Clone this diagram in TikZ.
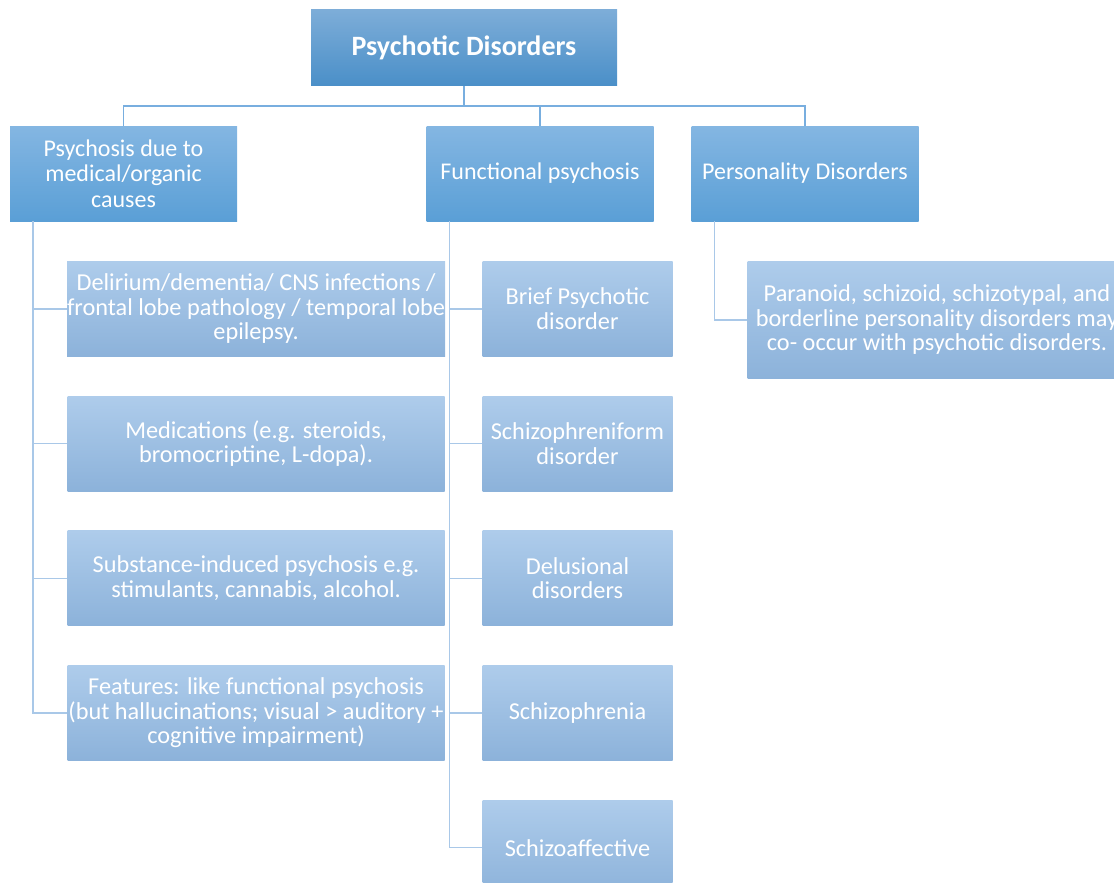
\documentclass[tikz,border=0pt]{standalone}
\usepackage{fontspec}
\setmainfont{Carlito}
\usepackage{tikz}
\usetikzlibrary{positioning}
\usepackage{xcolor}
\definecolor{headtop}{HTML}{7DADD8}
\definecolor{headbot}{HTML}{4A8FC8}
\definecolor{cattop}{HTML}{84B6E2}
\definecolor{catbot}{HTML}{5A9FD6}
\definecolor{subtop}{HTML}{AECCEB}
\definecolor{subbot}{HTML}{8CB2DA}
\definecolor{linkdark}{HTML}{78AEDF}
\definecolor{linklight}{HTML}{A9C8E8}

\begin{document}
\begin{tikzpicture}[
  x=1pt, y=-1pt,
  head/.style = {rectangle, top color=headtop, bottom color=headbot, text=white,
                 minimum width=306pt, minimum height=76pt, inner sep=0pt, align=center,
                 font=\fontsize{28}{30}\selectfont\bfseries},
  cat/.style  = {rectangle, top color=cattop, bottom color=catbot, text=white,
                 minimum width=227pt, minimum height=95pt, inner sep=0pt, align=center,
                 font=\fontsize{24}{25.5}\selectfont},
  sub/.style  = {rectangle, top color=subtop, bottom color=subbot, text=white,
                 minimum width=377pt, minimum height=95pt, inner sep=0pt, align=center,
                 font=\fontsize{24.3}{24.5}\selectfont},
  dis/.style  = {sub, minimum width=190pt},
  pd/.style   = {sub, minimum width=379pt, minimum height=117pt},
  link/.style = {draw=linkdark, line width=1.5pt},
  tie/.style  = {draw=linklight, line width=1.5pt},
  node distance = 39.3pt,
]
\useasboundingbox (0,0) rectangle (1114,883);
\clip (0,0) rectangle (1114,883);

% ── Top ──────────────────────────────────────────────────────────────────────
\node[head] (title) at (464,48) {Psychotic Disorders};

% ── Main groups ──────────────────────────────────────────────────────────────
\node[cat] (org)  at (123.5,173.5) {Psychosis due to\\medical/organic\\causes};
\node[cat] (func) at (540,173.5)   {Functional psychosis};
\node[cat] (pers) at (805,173.5)   {Personality Disorders};

\coordinate (bus) at (464,106);
\draw[link] (title.south) -- (bus);
\draw[link] (bus) -| (org.north);
\draw[link] (bus) -| (func.north);
\draw[link] (bus) -| (pers.north);

% ── Organic causes ───────────────────────────────────────────────────────────
\node[sub, below right=40pt and 57pt of org.south west] (med1)
      {Delirium/dementia/ CNS infections /\\frontal lobe pathology / temporal lobe\\epilepsy.};
\node[sub, below=of med1] (med2) {Medications (e.g. steroids,\\bromocriptine, L-dopa).};
\node[sub, below=of med2] (med3) {Substance-induced psychosis e.g.\\stimulants, cannabis, alcohol.};
\node[sub, below=of med3] (med4)
      {Features: like functional psychosis\\(but hallucinations; visual > auditory +\\cognitive impairment)};

\foreach \n in {med1,med2,med3,med4}
  \draw[tie] ([xshift=23pt]org.south west) |- (\n.west);

% ── Functional psychosis ─────────────────────────────────────────────────────
\node[dis, below right=40pt and 56pt of func.south west] (brief) {Brief Psychotic\\disorder};
\node[dis, below=of brief] (form)   {Schizophreniform\\disorder};
\node[dis, below=of form]  (delu)   {Delusional\\disorders};
\node[dis, below=of delu]  (schiz)  {Schizophrenia};
\node[dis, below=of schiz] (affect) {Schizoaffective};

\foreach \n in {brief,form,delu,schiz,affect}
  \draw[tie] ([xshift=23pt]func.south west) |- (\n.west);

% ── Personality disorders ────────────────────────────────────────────────────
\node[pd, below right=40pt and 56pt of pers.south west] (cooc)
      {Paranoid, schizoid, schizotypal, and\\borderline personality disorders may\\co- occur with psychotic disorders.};
\draw[tie] ([xshift=23pt]pers.south west) |- (cooc.west);

\end{tikzpicture}
\end{document}
